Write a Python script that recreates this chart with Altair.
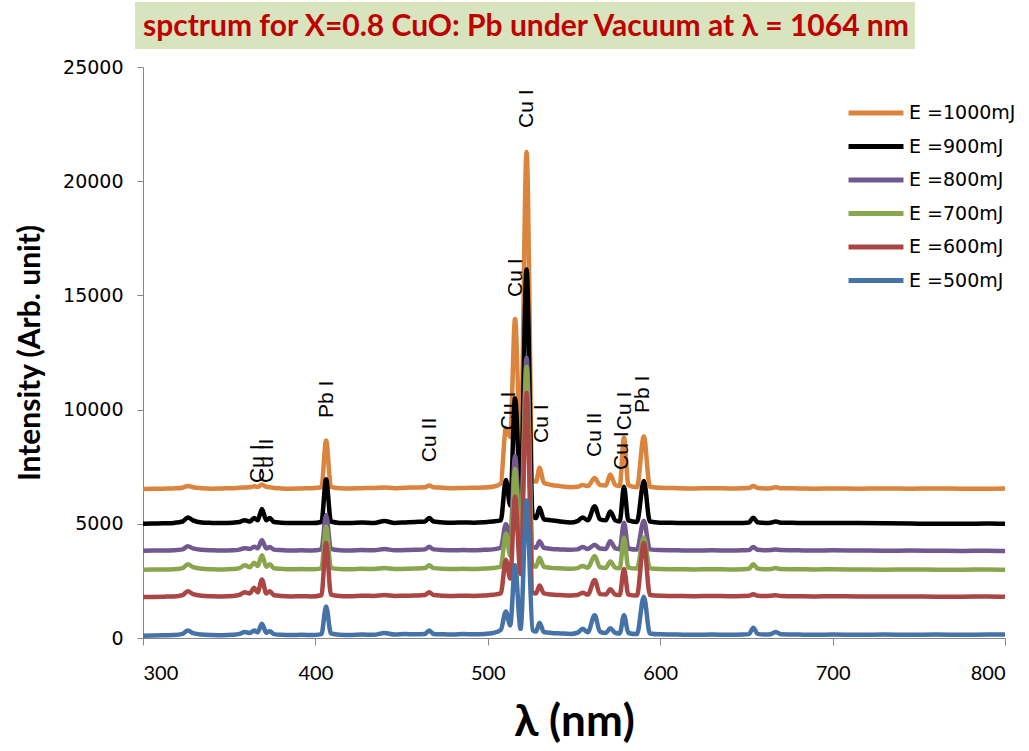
import altair as alt
import pandas as pd

# ---------------- data ----------------
wavelength = [300, 306, 312, 318, 323, 326, 329, 334, 340, 346,
              352, 356, 359, 362, 364.5, 366.5, 369, 371.5, 373.5, 376,
              380, 386, 392, 398, 403.5, 406.2, 409, 414, 420, 427,
              434, 440, 446, 452, 458, 463.5, 466, 468.5, 474, 480,
              486, 492, 498, 503, 507.5, 510.5, 513, 515.8, 519, 522.5,
              526, 528, 530, 532.5, 537, 542, 548, 552, 555, 558,
              562, 565, 568.5, 571, 574, 576.5, 579, 581.5, 586.5, 590.5,
              594, 600, 610, 620, 630, 640, 648, 651.5, 654, 656.5,
              661, 664, 667, 670, 680, 690, 700, 715, 730, 745,
              760, 775, 790, 800]

e1000 = [6520, 6530, 6540, 6550, 6580, 6660, 6600, 6560, 6540, 6550,
         6560, 6580, 6590, 6600, 6640, 6610, 6720, 6620, 6600, 6570,
         6550, 6540, 6550, 6560, 6600, 8650, 6620, 6560, 6550, 6560,
         6570, 6590, 6560, 6580, 6590, 6600, 6680, 6600, 6580, 6560,
         6570, 6580, 6590, 6620, 6750, 9200, 8800, 13970, 8200, 21280,
         6900, 6850, 7450, 6800, 6700, 6650, 6600, 6620, 6700, 6650,
         7000, 6700, 6680, 7160, 6700, 6650, 8780, 6700, 6600, 8820,
         6620, 6580, 6560, 6550, 6560, 6550, 6560, 6570, 6650, 6570,
         6550, 6560, 6600, 6560, 6550, 6540, 6550, 6540, 6550, 6540,
         6550, 6540, 6540, 6550]

e900 = [5000, 5010, 5020, 5040, 5100, 5280, 5150, 5060, 5040, 5030,
        5050, 5080, 5160, 5100, 5250, 5150, 5650, 5150, 5250, 5080,
        5050, 5030, 5040, 5030, 5080, 6950, 5100, 5040, 5030, 5060,
        5040, 5120, 5040, 5060, 5080, 5100, 5250, 5100, 5060, 5050,
        5060, 5050, 5070, 5100, 5150, 6920, 5800, 10500, 6300, 16130,
        5400, 5250, 5700, 5200, 5150, 5100, 5060, 5120, 5280, 5150,
        5770, 5200, 5150, 5540, 5150, 5100, 6625, 5150, 5080, 6870,
        5100, 5050, 5040, 5030, 5040, 5030, 5040, 5060, 5270, 5070,
        5040, 5050, 5100, 5050, 5040, 5030, 5040, 5030, 5020, 5010,
        5000, 5000, 5010, 5000]

e800 = [3820, 3830, 3830, 3840, 3880, 4020, 3920, 3860, 3840, 3830,
        3840, 3870, 3930, 3900, 4000, 3930, 4280, 3920, 3980, 3870,
        3850, 3830, 3840, 3830, 3880, 5390, 3900, 3840, 3830, 3850,
        3840, 3900, 3840, 3850, 3860, 3880, 3990, 3880, 3850, 3840,
        3850, 3840, 3860, 3880, 3950, 4980, 4300, 7970, 4600, 12270,
        4000, 3950, 4240, 3950, 3900, 3880, 3860, 3880, 3980, 3900,
        4080, 3920, 3900, 4240, 3920, 3890, 5050, 3920, 3870, 5130,
        3880, 3850, 3840, 3830, 3840, 3830, 3840, 3850, 3980, 3860,
        3840, 3850, 3880, 3850, 3840, 3830, 3840, 3830, 3820, 3830,
        3820, 3810, 3820, 3810]

e700 = [2990, 3000, 3000, 3010, 3060, 3230, 3100, 3030, 3010, 3000,
        3020, 3060, 3180, 3100, 3300, 3150, 3620, 3120, 3230, 3050,
        3030, 3010, 3020, 3010, 3050, 4880, 3070, 3020, 3010, 3030,
        3020, 3060, 3020, 3030, 3040, 3060, 3180, 3060, 3030, 3020,
        3030, 3020, 3040, 3060, 3120, 4570, 3600, 7400, 3900, 11860,
        3200, 3120, 3510, 3120, 3070, 3050, 3030, 3060, 3150, 3080,
        3590, 3100, 3070, 3350, 3080, 3050, 4400, 3080, 3040, 4400,
        3050, 3020, 3010, 3000, 3010, 3000, 3010, 3030, 3230, 3040,
        3010, 3020, 3060, 3020, 3010, 3000, 3010, 3000, 2990, 3000,
        2990, 2990, 3000, 2990]

e600 = [1790, 1800, 1810, 1820, 1880, 2050, 1920, 1850, 1830, 1820,
        1840, 1890, 2000, 1950, 2200, 2000, 2560, 1950, 2050, 1870,
        1840, 1820, 1830, 1820, 1870, 4160, 1900, 1840, 1830, 1850,
        1840, 1880, 1840, 1850, 1860, 1880, 2000, 1880, 1850, 1840,
        1850, 1840, 1860, 1890, 1950, 3430, 2600, 6190, 2800, 10730,
        2000, 1950, 2300, 1950, 1900, 1880, 1860, 1880, 1980, 1900,
        2540, 1920, 1900, 2130, 1900, 1880, 3025, 1900, 1860, 4160,
        1880, 1850, 1840, 1830, 1840, 1830, 1840, 1850, 1920, 1850,
        1840, 1850, 1870, 1840, 1830, 1820, 1830, 1820, 1820, 1820,
        1810, 1810, 1820, 1810]

e500 = [100, 110, 120, 130, 180, 330, 210, 150, 130, 120,
        140, 180, 260, 220, 330, 250, 620, 230, 300, 170,
        140, 130, 140, 130, 170, 1380, 200, 140, 130, 150,
        140, 220, 150, 170, 160, 180, 330, 180, 160, 150,
        170, 160, 180, 220, 350, 1160, 550, 3190, 400, 6020,
        350, 280, 670, 260, 220, 200, 180, 230, 400, 250,
        1000, 280, 220, 430, 220, 200, 1000, 220, 170, 1810,
        200, 160, 150, 140, 150, 140, 150, 170, 450, 180,
        150, 160, 260, 160, 150, 140, 150, 140, 150, 140,
        150, 140, 150, 150]

series_names = ["E =1000mJ", "E =900mJ", "E =800mJ", "E =700mJ", "E =600mJ", "E =500mJ"]
series_colors = ["#DB843D", "#000000", "#71588F", "#89A54E", "#AA4643", "#4572A7"]
series_values = [e1000, e900, e800, e700, e600, e500]

label_text = ["Cu I", "Cu II", "Pb I", "Cu II", "Cu I", "Cu I", "Cu I", "Cu I",
              "Cu II", "Cu I", "Cu I", "Pb I"]
label_wl = [366.7, 371.9, 406.5, 466.5, 512.3, 516.1, 522.9, 531.2,
            562.2, 577.7, 579.6, 589.8]
label_y = [6790, 6790, 9630, 7700, 9100, 14930, 22330, 8540,
           7925, 7355, 9100, 9850]

x_ticks = [300, 400, 500, 600, 700, 800]
y_ticks = [0, 5000, 10000, 15000, 20000, 25000]

title_text = "spctrum for  X=0.8 CuO: Pb under Vacuum at λ = 1064 nm"

# ---------------- tables ----------------
rows = []
for name, vals in zip(series_names, series_values):
    assert len(vals) == len(wavelength)
    for w, v in zip(wavelength, vals):
        rows.append({"wl": w, "intensity": v, "series": name})
df = pd.DataFrame(rows)

labels_df = pd.DataFrame({"wl": label_wl, "intensity": label_y, "label": label_text})
title_df = pd.DataFrame({"t": [title_text]})

AX = "#868686"

x_enc = alt.X(
    "wl:Q",
    scale=alt.Scale(domain=[300, 800], nice=False, zero=False),
    axis=alt.Axis(
        values=x_ticks, format="d", grid=False,
        title="λ (nm)", titleFont="Lato", titleFontSize=44, titleFontWeight="bold",
        titleColor="black", titleY=84, titleBaseline="middle",
        labelFont="'Liberation Sans Narrow', Lato", labelFontSize=20, labelColor="black",
        labelPadding=18, tickSize=7, tickColor=AX, domainColor=AX,
    ),
)
y_enc = alt.Y(
    "intensity:Q",
    scale=alt.Scale(domain=[0, 25000], nice=False),
    axis=alt.Axis(
        values=y_ticks, format="d", grid=False,
        title="Intensity (Arb. unit)", titleFont="Lato", titleFontSize=30,
        titleFontWeight="bold", titleColor="black", titleAngle=270,
        titleX=-113, titleY=285.5, titleAlign="center", titleBaseline="middle",
        labelFont="DejaVu Sans", labelFontSize=19, labelColor="black",
        labelPadding=14, tickSize=6, tickColor=AX, domainColor=AX,
    ),
)

lines = alt.Chart(df).mark_line(strokeWidth=4.5, interpolate="monotone").encode(
    x=x_enc,
    y=y_enc,
    color=alt.Color(
        "series:N",
        scale=alt.Scale(domain=series_names, range=series_colors),
        sort=series_names,
        legend=alt.Legend(
            title=None, orient="none", legendX=710, legendY=23,
            symbolType="M-1.34,0H1.34", symbolSize=1681, symbolStrokeWidth=5,
            labelFont="DejaVu Sans", labelFontSize=19, labelColor="black",
            labelOffset=10, rowPadding=0.5, padding=0,
        ),
    ),
)

labels = alt.Chart(labels_df).mark_text(
    angle=270, align="left", baseline="middle",
    font="Liberation Sans", fontSize=21, color="black",
).encode(x="wl:Q", y="intensity:Q", text="label:N")

title_bg = alt.Chart(title_df).mark_rect(color="#D7E4BD").encode(
    x=alt.value(-8), x2=alt.value(772), y=alt.value(-65), y2=alt.value(-18)
)
title_txt = alt.Chart(title_df).mark_text(
    font="Lato", fontSize=30, fontWeight="bold", color="#C00000",
    align="left", baseline="alphabetic",
).encode(x=alt.value(0), y=alt.value(-31), text="t:N")

chart = alt.layer(title_bg, title_txt, lines, labels).properties(
    width=862,
    height=571,
    padding={"left": 143, "top": 67, "right": 24, "bottom": 113},
    autosize=alt.AutoSizeParams(type="none"),
    background="white",
).configure_view(stroke=None)

chart.save("out.html", embed_options={"renderer": "svg", "actions": False})
